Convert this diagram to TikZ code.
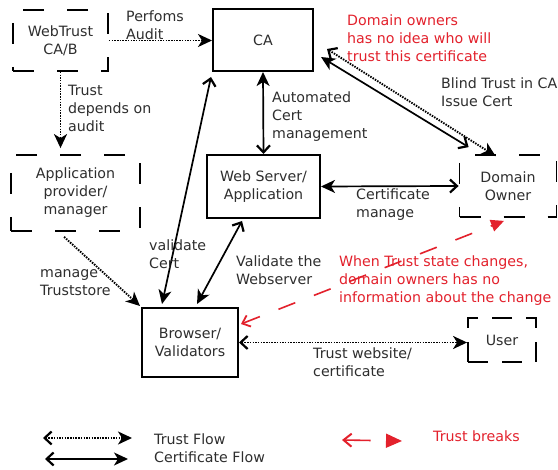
\documentclass[tikz,border=0pt]{standalone}
\usepackage{fontspec}
\setmainfont{DejaVu Sans}
\usetikzlibrary{arrows.meta,calc}
\definecolor{txt}{HTML}{2E2E2E}
\definecolor{brk}{HTML}{E3212C}
\tikzset{
  every node/.style={font=\fontsize{14.2}{18}\selectfont, text=txt},
  solidbox/.style={draw=black, line width=2pt, rectangle, inner sep=0pt, align=center},
  dashbox/.style={draw=black, line width=1.8pt, dash pattern=on 21pt off 23pt, rectangle, inner sep=0pt, align=center},
  lbl/.style={anchor=north west, inner sep=0pt, align=left},
  redlbl/.style={lbl, text=brk},
  barb/.tip={Straight Barb[length=7pt,width=13pt,line width=2.2pt]},
  stl/.tip={Stealth[length=14pt,width=13pt,inset=4pt]},
  certflow/.style={line width=1.7pt, barb-stl},
  trustflow/.style={line width=1.9pt, dash pattern=on 1.5pt off 1.2pt, barb-stl},
  trustone/.style={line width=1.9pt, dash pattern=on 1.5pt off 1.2pt, -stl},
  breakflow/.style={draw=brk, line width=1.6pt, dash pattern=on 18pt off 20pt,
     {Straight Barb[length=7pt,width=12pt,line width=1.8pt,sep=0pt]}-{Triangle[length=13pt,width=12pt]}},
}
\begin{document}
\begin{tikzpicture}[x=1pt,y=-1pt]
\useasboundingbox[fill=white] (0,0) rectangle (558,470);

% boxes
\node[dashbox, minimum width=95pt, minimum height=61pt] (webtrust) at (60.5,40.5) {WebTrust\\CA/B};
\node[solidbox, minimum width=100pt, minimum height=62pt] (ca) at (263,40) {CA};
\node[dashbox, minimum width=129pt, minimum height=76pt] (app) at (75.5,193) {Application\\provider/\\manager};
\node[solidbox, minimum width=113pt, minimum height=63pt] (web) at (263.5,186.5) {Web Server/\\Application};
\node[dashbox, minimum width=97pt, minimum height=62pt] (domain) at (508,186) {Domain\\Owner};
\node[solidbox, minimum width=96pt, minimum height=69pt] (browser) at (190,342.5) {Browser/\\Validators};
\node[dashbox, minimum width=68pt, minimum height=44pt, dash pattern=on 20pt off 14pt] (user) at (502,340) {User};

% connectors
\draw[trustone] (webtrust.east) -- (webtrust.east -| ca.west);
\draw[trustone, shorten >=6pt] (webtrust.south) -- (webtrust.south |- app.north);
\draw[certflow] (web.north) -- (ca.south);
\draw[certflow] ($(ca.south west)+(-1,5)$) -- ($(browser.north west)+(21,-3)$);
\draw[certflow] ($(web.south west)+(36,2)$) -- ($(browser.north west)+(56,-3)$);
\draw[trustone] ($(app.south west)+(54,5)$) -- ($(browser.north west)+(-1,-1)$);
\draw[certflow] (domain.west) -- (web.east);
\draw[certflow] ($(domain.north west)+(10,-7)$) -- ($(ca.east)+(7,17)$);
\draw[trustflow] ($(ca.east)+(13,9)$) -- ($(domain.north west)+(37,2)$);
\draw[trustflow] (browser.east) -- (browser.east -| user.west);
\draw[breakflow] ($(browser.north east)+(2,17)$) -- ($(domain.south)+(-4,3)$);

% labels
\node[lbl] (tperf) at (126,11) {Perfoms\\Audit};
\node[lbl] (tdep) at (68,85) {Trust\\depends on\\audit};
\node[lbl] (tauto) at (272,92) {Automated\\Cert\\management};
\node[redlbl] (tnoidea) at (347,15) {Domain owners\\has no idea who will\\trust this certificate};
\node[lbl] (tblind) at (441,78) {Blind Trust in CA\\Issue Cert};
\node[lbl] (tcm) at (356,189) {Certificate\\manage};
\node[lbl] (tval) at (149,240) {validate\\Cert};
\node[lbl] (tman) at (40,269) {manage\\Truststore};
\node[lbl] (tvw) at (236,256) {Validate the\\Webserver};
\node[redlbl] (twhen) at (339,256) {When Trust state changes,\\domain owners has no\\information about the change};
\node[lbl] (tweb) at (313,348) {Trust website/\\certificate};

% legend
\coordinate (lt1) at (43,438);
\coordinate (lt2) at (132,438);
\coordinate (lc1) at (45,459);
\coordinate (lc2) at (128,459);
\coordinate (lr1) at (342,440);
\coordinate (lr2) at (402,441);
\draw[trustflow] (lt1) -- (lt2);
\draw[certflow] (lc1) -- (lc2);
\draw[breakflow, dash pattern=on 26pt off 18pt,
  {Straight Barb[length=8pt,width=13pt,line width=2pt,sep=0pt]}-{Triangle[length=16pt,width=14pt]}] (lr1) -- (lr2);
\node[lbl] (ltf) at (154,434) {Trust Flow};
\node[lbl] (lcf) at (154,452) {Certificate Flow};
\node[redlbl] (ltb) at (433,431) {Trust breaks};
\end{tikzpicture}
\end{document}
